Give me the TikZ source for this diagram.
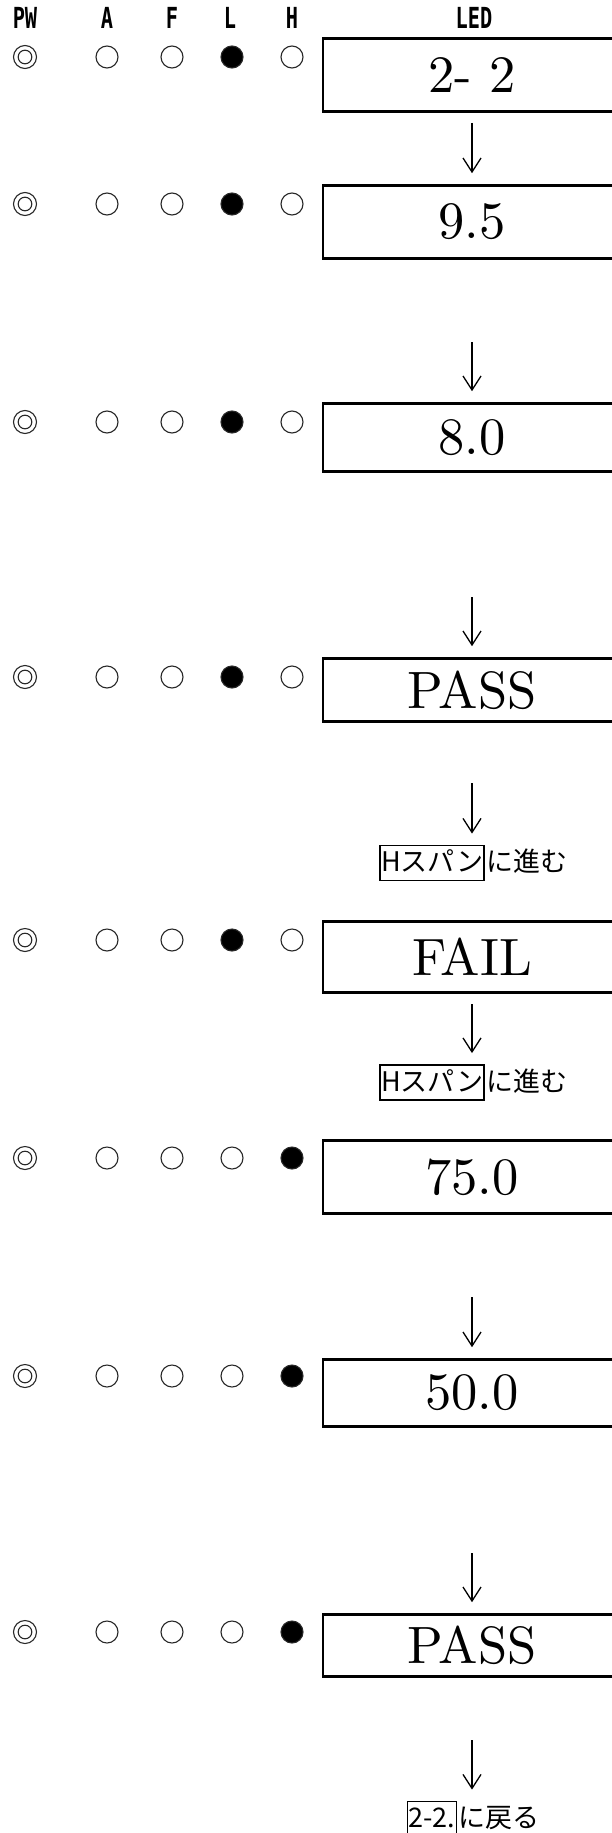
\documentclass[tikz,border=0pt]{standalone}
\usepackage{fontspec}
\usepackage{tikz}
\usetikzlibrary{arrows.meta,calc,positioning}
\newfontfamily\fuentejp{Noto Sans CJK JP}
\newfontfamily\fuentecab{DejaVu Sans Mono}
\newfontfamily\fuentevalor{lmroman10-regular.otf}
\definecolor{GrisLed}{RGB}{40,40,40}
\newcommand{\estrecho}[1]{\scalebox{0.7}[1]{#1}}

\begin{document}
\begin{tikzpicture}[x=1pt,y=-1pt,
  cab/.style={font=\fuentecab\bfseries\fontsize{29}{29}\selectfont,inner sep=0pt},
  lampara/.style={circle,minimum size=22pt,inner sep=0pt,line width=1.1pt,draw=GrisLed,fill=#1},
  valor/.style={draw,line width=2.6pt,minimum width=298pt,inner sep=0pt,font=\fuentevalor\fontsize{52.5}{56}\selectfont},
  aviso/.style={font=\fuentejp\fontsize{27}{30}\selectfont,inner xsep=1pt,inner ysep=4pt,text height=22pt,text depth=5pt},
  marco/.style={aviso,draw,line width=1.8pt},
  flecha/.style={-{Straight Barb[length=14pt,width=18pt]},line width=1.3pt,shorten >=11pt}]
  \useasboundingbox (0,0) rectangle (612,1833);
  \clip (0,0) rectangle (612,1833);
  % cabecera
  \node[cab] (tpw) at (25,17.5) {\estrecho{PW}};
  \node[cab] (ta) at (107,17.5) {\estrecho{A}};
  \node[cab] (tf) at (172,17.5) {\estrecho{F}};
  \node[cab] (tl) at (230,17.5) {\estrecho{L}};
  \node[cab] (th) at (292,17.5) {\estrecho{H}};
  \node[cab] (tled) at (474,17.5) {\estrecho{LED}};
  % lamparas, L encendida en 1-5, H en 6-8
  \foreach \r/\y/\cl/\ch in {1/57/black/white,2/204/black/white,3/422/black/white,
      4/677/black/white,5/940/black/white,6/1158/white/black,7/1376/white/black,8/1632/white/black}{
    \node[lampara=white,minimum size=23pt] (pw\r) at (25,\y) {};
    \draw[line width=1.1pt,GrisLed] (pw\r.center) circle (6.8pt);
    \node[lampara=white] (a\r) at (107,\y) {};
    \node[lampara=white] (f\r) at (172,\y) {};
    \node[lampara=\cl] (l\r) at (232,\y) {};
    \node[lampara=\ch] (h\r) at (292,\y) {};
  }
  % pantalla LED
  \node[valor,minimum height=73pt] (v1) at (472,75) {2- 2};
  \node[valor,minimum height=73pt] (v2) at (472,222) {9.5};
  \node[valor,minimum height=68pt] (v3) at (472,437.5) {8.0};
  \node[valor,minimum height=63pt] (v4) at (472,690) {PASS};
  \node[valor,minimum height=71pt] (v5) at (472,957) {FAIL};
  \node[valor,minimum height=73pt] (v6) at (472,1177) {75.0};
  \node[valor,minimum height=67pt] (v7) at (472,1393) {50.0};
  \node[valor,minimum height=62pt] (v8) at (472,1645.5) {PASS};
  % avisos
  \node[marco] (hs1) at (432,863) {Hスパン};
  \node[aviso,right=0pt of hs1] (hs1b) {に進む};
  \node[marco] (hs2) at (432,1082.5) {Hスパン};
  \node[aviso,right=0pt of hs2] (hs2b) {に進む};
  \node[marco] (ret) at (432,1819) {2-2.};
  \node[aviso,right=0pt of ret] (retb) {に戻る};
  % flechas
  \coordinate (a1) at (472,123);
  \coordinate (a2) at (472,342);
  \coordinate (a3) at (472,597);
  \coordinate (a4) at (472,783);
  \coordinate (a5) at (472,1004);
  \coordinate (a6) at (472,1297);
  \coordinate (a7) at (472,1553);
  \coordinate (a8) at (472,1740);
  \draw[flecha] (a1) -- (a1 |- v2.north);
  \draw[flecha] (a2) -- (a2 |- v3.north);
  \draw[flecha] (a3) -- (a3 |- v4.north);
  \draw[flecha] (a4) -- (a4 |- hs1.north);
  \draw[flecha] (a5) -- (a5 |- hs2.north);
  \draw[flecha] (a6) -- (a6 |- v7.north);
  \draw[flecha] (a7) -- (a7 |- v8.north);
  \draw[flecha] (a8) -- (a8 |- ret.north);
\end{tikzpicture}
\end{document}
